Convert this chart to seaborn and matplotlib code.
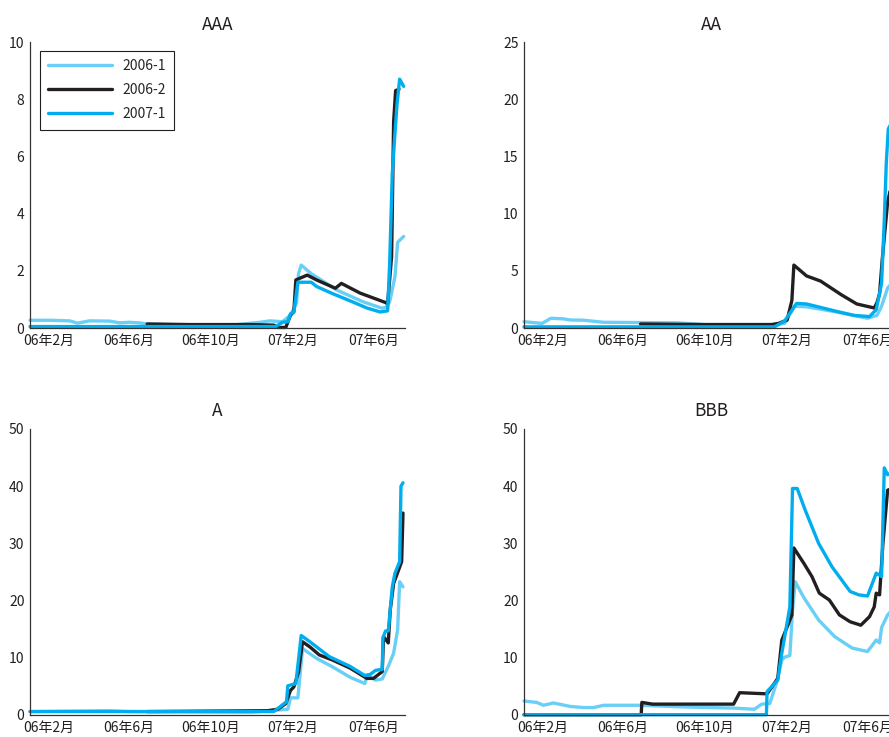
import pandas as pd
import matplotlib.pyplot as plt
import seaborn as sns

# ---------------- data ----------------
series_names = ["2006-1", "2006-2", "2007-1"]
colors = {"2006-1": "#6ACFF6", "2006-2": "#231F20", "2007-1": "#00AEEF"}

tick_dates = ["2006-02-01", "2006-06-01", "2006-10-01", "2007-02-01", "2007-06-01"]
tick_labels = ["06年2月", "06年6月", "06年10月", "07年2月", "07年6月"]

# AAA
aaa_d1 = ["2006-01-04", "2006-02-01", "2006-03-04", "2006-03-16", "2006-04-03", "2006-05-03", "2006-05-18",
          "2006-06-01", "2006-06-16", "2006-06-28", "2006-08-31", "2006-11-01", "2006-12-14", "2006-12-28",
          "2007-01-16", "2007-01-28", "2007-02-06", "2007-02-09", "2007-02-13", "2007-02-28", "2007-04-07",
          "2007-05-16", "2007-06-14", "2007-06-22", "2007-06-26", "2007-07-03", "2007-07-07", "2007-07-16"]
aaa_v1 = [0.27, 0.27, 0.25, 0.17, 0.25, 0.24, 0.18, 0.2, 0.18, 0.14, 0.1, 0.1, 0.2, 0.25,
          0.22, 0.45, 0.87, 1.9, 2.2, 1.9, 1.33, 0.92, 0.69, 0.75, 1.0, 1.8, 3.0, 3.2]
aaa_d2 = ["2006-06-28", "2006-09-01", "2006-12-01", "2007-01-03", "2007-01-09", "2007-01-21", "2007-01-28",
          "2007-02-02", "2007-02-05", "2007-02-22", "2007-03-08", "2007-04-05", "2007-04-14", "2007-05-12",
          "2007-06-19", "2007-06-22", "2007-06-28", "2007-07-01", "2007-07-04", "2007-07-09"]
aaa_v2 = [0.14, 0.12, 0.12, 0.1, 0.02, 0.02, 0.45, 0.57, 1.68, 1.85, 1.68, 1.39, 1.56, 1.22,
          0.89, 0.84, 2.5, 7.2, 8.3, 8.35]
aaa_d3 = ["2006-01-04", "2007-01-06", "2007-01-16", "2007-01-24", "2007-01-28", "2007-02-02", "2007-02-08",
          "2007-02-28", "2007-03-08", "2007-04-01", "2007-04-27", "2007-05-22", "2007-06-11", "2007-06-22",
          "2007-06-25", "2007-06-29", "2007-07-03", "2007-07-06", "2007-07-10", "2007-07-16"]
aaa_v3 = [0.05, 0.05, 0.2, 0.22, 0.5, 0.55, 1.6, 1.6, 1.45, 1.2, 0.95, 0.7, 0.56, 0.6,
          2.2, 5.4, 6.8, 7.8, 8.7, 8.45]

# AA
aa_d1 = ["2006-01-04", "2006-01-31", "2006-02-13", "2006-03-04", "2006-03-14", "2006-04-03", "2006-05-03",
         "2006-08-21", "2006-10-01", "2007-01-09", "2007-01-28", "2007-02-05", "2007-02-12", "2007-03-02",
         "2007-04-16", "2007-06-01", "2007-06-15", "2007-06-22", "2007-07-01", "2007-07-16"]
aa_v1 = [0.55, 0.4, 0.85, 0.8, 0.7, 0.68, 0.5, 0.45, 0.3, 0.3, 0.4, 1.2, 1.9, 1.85,
         1.4, 0.85, 1.1, 1.9, 3.5, 4.5]
aa_d2 = ["2006-06-27", "2006-10-01", "2007-01-09", "2007-01-19", "2007-02-01", "2007-02-08", "2007-02-11",
         "2007-03-02", "2007-03-23", "2007-04-23", "2007-05-16", "2007-06-11", "2007-06-15", "2007-06-19",
         "2007-06-23", "2007-07-01", "2007-07-16"]
aa_v2 = [0.35, 0.3, 0.3, 0.4, 0.7, 2.4, 5.5, 4.55, 4.1, 2.9, 2.1, 1.75, 2.2, 3.0, 6.0, 11.0, 15.0]
aa_d3 = ["2006-01-04", "2007-01-13", "2007-01-28", "2007-02-15", "2007-03-02", "2007-04-16", "2007-05-12",
         "2007-06-04", "2007-06-14", "2007-06-22", "2007-06-26", "2007-06-29", "2007-07-02", "2007-07-16"]
aa_v3 = [0.1, 0.1, 0.6, 2.15, 2.1, 1.45, 1.1, 1.0, 1.6, 3.9, 9.4, 14.4, 17.4, 19.0]

# A
a_d1 = ["2006-01-04", "2006-05-03", "2006-06-01", "2006-12-01", "2007-01-24", "2007-01-28", "2007-02-08",
        "2007-02-15", "2007-03-08", "2007-04-01", "2007-04-27", "2007-05-19", "2007-05-23", "2007-06-04",
        "2007-06-14", "2007-06-23", "2007-07-01", "2007-07-07", "2007-07-10", "2007-07-15"]
a_v1 = [0.6, 0.75, 0.6, 0.5, 1.0, 3.0, 3.0, 11.6, 9.9, 8.4, 6.6, 5.5, 7.0, 6.1,
        6.3, 8.5, 10.8, 14.9, 23.3, 22.4]
a_d2 = ["2006-06-28", "2006-12-25", "2007-01-09", "2007-01-21", "2007-01-28", "2007-02-02", "2007-02-09",
        "2007-02-15", "2007-02-26", "2007-03-12", "2007-04-01", "2007-04-27", "2007-05-22", "2007-06-01",
        "2007-06-14", "2007-06-16", "2007-06-23", "2007-06-26", "2007-07-01", "2007-07-13", "2007-07-15"]
a_v2 = [0.6, 0.75, 1.0, 2.0, 4.3, 4.9, 7.5, 12.8, 11.9, 10.5, 9.6, 8.2, 6.4, 6.4,
        7.6, 13.7, 12.6, 18.4, 23.0, 26.8, 35.3]
a_d3 = ["2006-01-04", "2007-01-03", "2007-01-13", "2007-01-22", "2007-01-24", "2007-02-05", "2007-02-13",
        "2007-02-26", "2007-03-27", "2007-04-27", "2007-05-19", "2007-05-27", "2007-06-04", "2007-06-14",
        "2007-06-15", "2007-06-19", "2007-06-23", "2007-06-29", "2007-07-03", "2007-07-10", "2007-07-12",
        "2007-07-15"]
a_v3 = [0.6, 0.6, 1.5, 2.3, 5.1, 5.5, 13.9, 12.8, 10.2, 8.5, 6.9, 7.1, 7.8, 8.0,
        13.5, 14.7, 14.7, 22.4, 24.8, 26.8, 40.0, 40.6]

# BBB
bbb_d1 = ["2006-01-04", "2006-01-23", "2006-02-02", "2006-02-17", "2006-03-14", "2006-04-03", "2006-04-18",
          "2006-05-03", "2006-06-26", "2006-09-01", "2006-11-15", "2006-12-14", "2006-12-25", "2007-01-06",
          "2007-01-16", "2007-01-24", "2007-01-28", "2007-02-05", "2007-02-09", "2007-02-13", "2007-02-26",
          "2007-03-20", "2007-04-13", "2007-05-09", "2007-06-01", "2007-06-14", "2007-06-19", "2007-06-22",
          "2007-07-01", "2007-07-16"]
bbb_v1 = [2.45, 2.2, 1.7, 2.1, 1.5, 1.3, 1.3, 1.7, 1.7, 1.4, 1.2, 1.0, 1.9, 2.0,
          5.6, 9.6, 10.1, 10.4, 18.3, 23.3, 20.5, 16.6, 13.7, 11.7, 11.1, 13.1, 12.6, 15.3,
          17.5, 19.5]
bbb_d2 = ["2006-01-04", "2006-06-28", "2006-06-29", "2006-07-15", "2006-11-13", "2006-11-22", "2007-01-02",
          "2007-01-18", "2007-01-24", "2007-02-01", "2007-02-08", "2007-02-11", "2007-02-26", "2007-03-10",
          "2007-03-21", "2007-04-05", "2007-04-20", "2007-05-06", "2007-05-22", "2007-06-04", "2007-06-11",
          "2007-06-14", "2007-06-19", "2007-06-24", "2007-07-01", "2007-07-16"]
bbb_v2 = [0.05, 0.05, 2.2, 1.9, 1.9, 3.9, 3.7, 6.4, 13.1, 15.4, 17.5, 29.2, 26.5, 24.2,
          21.3, 20.1, 17.5, 16.3, 15.7, 17.2, 18.9, 21.3, 21.0, 30.0, 39.3, 40.0]
bbb_d3 = ["2006-01-04", "2007-01-01", "2007-01-02", "2007-01-18", "2007-01-24", "2007-02-05", "2007-02-09",
          "2007-02-16", "2007-02-28", "2007-03-20", "2007-04-09", "2007-05-06", "2007-05-19", "2007-06-01",
          "2007-06-14", "2007-06-22", "2007-06-26", "2007-07-01", "2007-07-16"]
bbb_v3 = [0.05, 0.05, 4.1, 6.1, 10.8, 18.9, 39.6, 39.6, 35.8, 30.0, 25.9, 21.6, 21.0, 20.8,
          24.8, 24.2, 43.2, 42.0, 43.0]

panels = [
    ("AAA", 10, 2, (aaa_d1, aaa_v1, aaa_d2, aaa_v2, aaa_d3, aaa_v3)),
    ("AA", 25, 5, (aa_d1, aa_v1, aa_d2, aa_v2, aa_d3, aa_v3)),
    ("A", 50, 10, (a_d1, a_v1, a_d2, a_v2, a_d3, a_v3)),
    ("BBB", 50, 10, (bbb_d1, bbb_v1, bbb_d2, bbb_v2, bbb_d3, bbb_v3)),
]


def to_frame(d1, v1, d2, v2, d3, v3):
    parts = []
    for name, d, v in zip(series_names, (d1, d2, d3), (v1, v2, v3)):
        parts.append(pd.DataFrame({"date": pd.to_datetime(d), "value": v, "series": name}))
    return pd.concat(parts, ignore_index=True)


# ---------------- plot ----------------
sns.set_style("white")
plt.rcParams["font.family"] = ["Noto Sans CJK SC", "DejaVu Sans"]

W, H = 889, 737
fig = plt.figure(figsize=(W / 100, H / 100), dpi=100)

# axes boxes in pixels (left, top); right-hand panels run past the figure edge
boxes = [(30, 42), (524, 42), (30, 429), (524, 429)]
aw, ah = 375, 286

for (title, ymax, ystep, arrays), (px, py) in zip(panels, boxes):
    ax = fig.add_axes([px / W, 1 - (py + ah) / H, aw / W, ah / H])
    df = to_frame(*arrays)
    sns.lineplot(data=df, x="date", y="value", hue="series", hue_order=series_names,
                 palette=colors, linewidth=2.4, estimator=None, ax=ax,
                 legend=(title == "AAA"))
    for ln in ax.lines:
        ln.set_clip_on(False)
        ln.set_solid_joinstyle("round")

    ax.set_xlim(pd.Timestamp("2006-01-04"), pd.Timestamp("2007-07-18"))
    ax.set_ylim(0, ymax)
    ax.set_yticks(range(0, ymax + 1, ystep))
    ax.set_xticks(pd.to_datetime(tick_dates))
    ax.set_xticklabels(tick_labels)
    ax.set_xlabel("")
    ax.set_ylabel("")
    ax.set_title(title, fontsize=12.5, pad=9, color="#231F20")

    for side in ["top", "right"]:
        ax.spines[side].set_visible(False)
    for side in ["left", "bottom"]:
        ax.spines[side].set_color("#333333")
        ax.spines[side].set_linewidth(0.9)
    ax.tick_params(direction="in", length=4, width=0.8, color="#333333",
                   labelsize=10, labelcolor="#231F20", pad=4)

    if title == "AAA":
        sns.move_legend(ax, "upper left", bbox_to_anchor=(10 / aw, 1 - 9 / ah), title=None,
                        frameon=True, fancybox=False, framealpha=1, edgecolor="#231F20",
                        fontsize=10, handlelength=4.6, handletextpad=0.7, labelspacing=0.72,
                        borderpad=0.6, borderaxespad=0)
        ax.get_legend().get_frame().set_linewidth(0.8)

fig.savefig("out.png", dpi=100)
